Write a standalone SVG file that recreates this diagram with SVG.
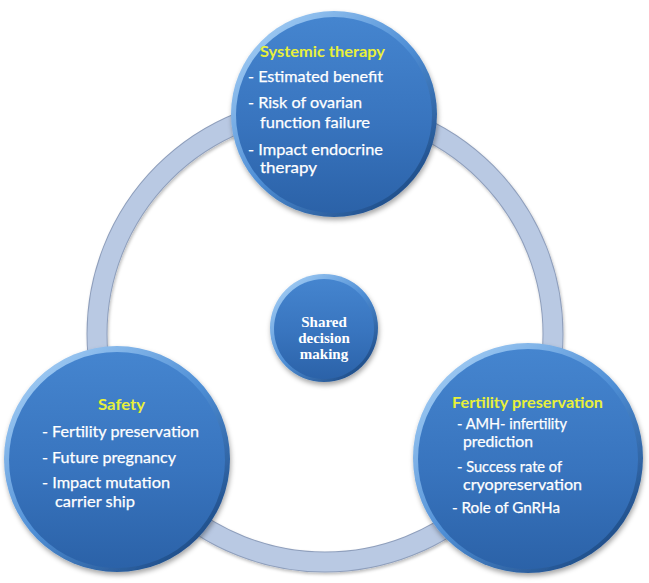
<svg xmlns="http://www.w3.org/2000/svg" width="649" height="583" viewBox="0 0 649 583">
<defs>
<linearGradient id="body" x1="0" y1="0" x2="0" y2="1">
<stop offset="0" stop-color="#4585cf"/>
<stop offset="0.55" stop-color="#3874be"/>
<stop offset="1" stop-color="#2b62a8"/>
</linearGradient>
<linearGradient id="rim" x1="0.15" y1="0.1" x2="0.85" y2="0.9">
<stop offset="0" stop-color="#9cc8f2"/>
<stop offset="0.5" stop-color="#4f8fd6"/>
<stop offset="1" stop-color="#1e4c88"/>
</linearGradient>
<filter id="sh" x="-20%" y="-20%" width="140%" height="140%">
<feDropShadow dx="1" dy="3" stdDeviation="2.5" flood-color="#000" flood-opacity="0.35"/>
</filter>
<filter id="rsh" x="-10%" y="-10%" width="120%" height="120%">
<feDropShadow dx="1" dy="2" stdDeviation="1.5" flood-color="#000" flood-opacity="0.25"/>
</filter>
</defs>
<style>
.rim{fill:url(#rim);filter:url(#sh)}
.bd{fill:url(#body)}
.t{font-family:Lato,"Open Sans",sans-serif;font-size:16px;fill:#ffffff;stroke:#ffffff;stroke-width:0.25}
.s{font-size:15px}
.h{font-family:Lato,"Open Sans",sans-serif;font-size:16px;font-weight:bold;fill:#e8f03a}
.c{font-family:"Liberation Serif",serif;font-size:15px;font-weight:bold;fill:#ffffff;text-anchor:middle}
</style>
<rect width="649" height="583" fill="#ffffff"/>
<g id="connectors">
<circle cx="325" cy="334" r="228" fill="none" stroke="#8f9fbc" stroke-width="21" filter="url(#rsh)"/>
<circle cx="325" cy="334" r="228" fill="none" stroke="#b9c9e3" stroke-width="19"/>
</g>
<g id="center">
<circle class="rim" cx="324" cy="328" r="54"/>
<circle class="bd" cx="324" cy="329" r="50"/>
<text class="c" x="324" y="327">Shared</text>
<text class="c" x="324" y="343">decision</text>
<text class="c" x="324" y="359">making</text>
</g>
<g id="systemic">
<circle class="rim" cx="334" cy="114" r="103"/>
<circle class="bd" cx="334" cy="115" r="98"/>
<text class="h" x="260" y="57" textLength="125" lengthAdjust="spacingAndGlyphs">Systemic therapy</text>
<text class="t" x="248" y="82" textLength="135" lengthAdjust="spacingAndGlyphs">- Estimated benefit</text>
<text class="t" x="248" y="108" textLength="114" lengthAdjust="spacingAndGlyphs">- Risk of ovarian</text>
<text class="t" x="260" y="128" textLength="110" lengthAdjust="spacingAndGlyphs">function failure</text>
<text class="t" x="248" y="155" textLength="135" lengthAdjust="spacingAndGlyphs">- Impact endocrine</text>
<text class="t" x="260" y="173" textLength="57" lengthAdjust="spacingAndGlyphs">therapy</text>
</g>
<g id="safety">
<circle class="rim" cx="117" cy="459" r="113"/>
<circle class="bd" cx="117" cy="460" r="108"/>
<text class="h" x="98" y="410" textLength="47" lengthAdjust="spacingAndGlyphs">Safety</text>
<text class="t" x="42" y="437" textLength="157" lengthAdjust="spacingAndGlyphs">- Fertility preservation</text>
<text class="t" x="42" y="463" textLength="134" lengthAdjust="spacingAndGlyphs">- Future pregnancy</text>
<text class="t" x="42" y="488" textLength="128" lengthAdjust="spacingAndGlyphs">- Impact mutation</text>
<text class="t" x="55" y="507" textLength="80" lengthAdjust="spacingAndGlyphs">carrier ship</text>
</g>
<g id="fertility">
<circle class="rim" cx="528" cy="458" r="115"/>
<circle class="bd" cx="528" cy="459" r="110"/>
<text class="h" x="452" y="408" textLength="151" lengthAdjust="spacingAndGlyphs">Fertility preservation</text>
<text class="t s" x="457" y="429" textLength="110" lengthAdjust="spacingAndGlyphs">- AMH- infertility</text>
<text class="t s" x="463" y="447" textLength="70" lengthAdjust="spacingAndGlyphs">prediction</text>
<text class="t s" x="457" y="472" textLength="105" lengthAdjust="spacingAndGlyphs">- Success rate of</text>
<text class="t s" x="463" y="490" textLength="119" lengthAdjust="spacingAndGlyphs">cryopreservation</text>
<text class="t" x="452" y="513" textLength="108" lengthAdjust="spacingAndGlyphs">- Role of GnRHa</text>
</g>
</svg>
